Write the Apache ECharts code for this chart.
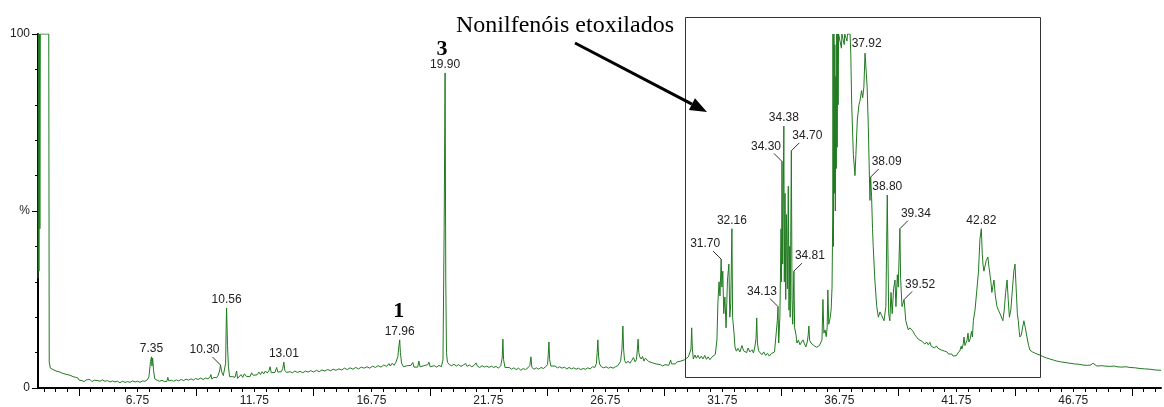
<!DOCTYPE html>
<html><head><meta charset="utf-8">
<script src="https://cdn.jsdelivr.net/npm/echarts@6/dist/echarts.min.js"></script>
<style>html,body{margin:0;padding:0;background:#fff}#c{width:1164px;height:407px}</style>
</head><body><div id="c"></div>
<script>
// ---- data (retention time [min], relative intensity [%]) ----
const signal = [
[2.50,31],[2.52,100],[2.54,33],[2.56,100],[2.58,45],[2.60,100],[2.96,100],[2.98,7.3],[3.03,5.6],[3.09,6.0],[3.14,5.2],[3.20,5.5],[3.27,4.8],[3.33,5.1],[3.44,4.5],[3.50,4.7],[3.57,4.1],[3.65,4.3],[3.74,3.8],[3.80,4.0],[3.87,3.6],[3.94,3.8],[4.00,3.2],[4.06,3.4],[4.12,3.0],[4.21,2.8],[4.26,2.2],[4.30,1.7],[4.38,2.1],[4.47,1.8],[4.56,2.3],[4.64,1.9],[4.72,2.4],[4.81,1.8],[4.90,2.2],[4.98,1.8],[5.06,2.1],[5.15,1.9],[5.25,2.3],[5.36,1.9],[5.47,2.1],[5.58,1.7],[5.68,2.0],[5.79,1.7],[5.90,1.9],[6.00,1.5],[6.11,1.9],[6.22,1.6],[6.33,1.8],[6.43,1.6],[6.54,2.0],[6.65,1.7],[6.76,1.9],[6.86,1.6],[6.97,2.0],[7.07,1.9],[7.17,2.3],[7.24,3.1],[7.31,7.5],[7.35,8.8],[7.37,6.2],[7.40,8.5],[7.44,5.0],[7.49,2.6],[7.59,2.2],[7.70,1.9],[7.80,2.2],[7.90,1.8],[8.01,1.9],[8.05,3.0],[8.09,2.0],[8.20,2.2],[8.30,1.9],[8.41,2.3],[8.51,2.0],[8.62,2.4],[8.73,2.1],[8.83,2.5],[8.94,2.2],[9.04,2.6],[9.14,2.2],[9.24,2.7],[9.34,2.4],[9.45,2.8],[9.51,3.3],[9.56,2.4],[9.66,2.8],[9.76,2.6],[9.85,3.0],[9.89,3.8],[9.93,2.5],[10.02,3.0],[10.08,3.5],[10.14,2.9],[10.20,3.6],[10.26,4.8],[10.30,6.5],[10.36,4.4],[10.42,3.5],[10.47,3.0],[10.52,7.0],[10.54,16],[10.56,22.6],[10.60,12],[10.64,6.0],[10.69,3.2],[10.76,2.9],[10.83,3.2],[10.92,3.0],[10.99,4.8],[11.03,2.7],[11.10,3.2],[11.18,3.8],[11.25,3.0],[11.32,4.0],[11.40,3.3],[11.48,3.6],[11.56,3.2],[11.63,4.3],[11.70,3.6],[11.78,4.0],[11.86,3.7],[11.94,4.5],[12.01,3.8],[12.08,4.6],[12.15,4.0],[12.22,4.8],[12.30,4.2],[12.38,5.0],[12.42,6.0],[12.47,4.3],[12.55,4.8],[12.63,4.4],[12.70,5.8],[12.75,4.5],[12.82,5.0],[12.90,4.6],[12.96,5.5],[13.01,7.3],[13.05,5.0],[13.12,4.4],[13.20,4.9],[13.27,4.6],
[13.38,4.3],[13.48,4.8],[13.59,4.4],[13.70,4.7],[13.82,4.3],[13.93,4.8],[14.04,4.5],[14.16,4.9],[14.28,4.5],[14.40,5.0],[14.52,4.6],[14.64,5.1],[14.76,4.8],[14.88,5.2],[15.00,4.9],[15.12,5.3],[15.24,5.0],[15.36,5.4],[15.48,5.1],[15.60,5.6],[15.72,5.2],[15.84,5.7],[15.96,5.3],[16.08,5.8],[16.20,5.4],[16.32,5.9],[16.44,5.6],[16.56,6.0],[16.68,5.6],[16.80,6.2],[16.92,5.8],[17.04,6.3],[17.16,5.9],[17.28,6.5],[17.40,6.1],[17.50,6.9],[17.56,6.2],[17.64,7.0],[17.72,6.4],[17.80,7.3],[17.88,8.8],[17.93,12],[17.96,13.6],[17.99,10],[18.04,7.0],[18.12,6.0],[18.20,5.7],[18.28,6.3],[18.36,5.8],[18.44,6.4],[18.52,7.2],[18.57,5.9],[18.65,6.3],[18.73,5.9],[18.78,7.6],[18.83,6.0],[18.91,5.8],[19.00,6.3],[19.08,5.9],[19.16,6.6],[19.21,7.3],[19.26,6.0],[19.34,5.8],[19.44,6.3],[19.54,5.9],[19.64,6.4],[19.74,6.0],[19.81,7.9],[19.86,45],[19.90,89],[19.93,30],[19.96,10],[20.00,7.3],[20.08,6.6],[20.18,6.3],[20.28,6.7],[20.38,6.2],[20.48,6.6],[20.58,6.1],[20.68,6.5],[20.78,6.9],[20.84,6.1],[20.94,6.5],[21.04,6.0],[21.14,6.4],[21.22,7.1],[21.28,6.2],[21.38,5.8],[21.48,6.3],[21.58,5.9],[21.68,6.2],[21.78,5.8],[21.88,6.2],[21.98,5.8],[22.08,6.1],[22.18,5.6],[22.28,6.3],[22.34,8.5],[22.37,13.8],[22.40,8.0],[22.46,5.8],[22.54,5.4],[22.64,5.8],[22.74,5.3],[22.84,5.7],[22.94,5.2],[23.04,5.6],[23.14,5.0],[23.24,5.5],[23.34,5.2],[23.44,5.7],[23.52,6.3],[23.57,8.8],[23.61,5.8],[23.70,5.3],[23.80,5.7],[23.90,5.3],[24.00,5.8],[24.10,5.5],[24.20,6.0],[24.28,6.6],[24.31,9.5],[24.34,13.0],[24.37,8.0],[24.42,6.2],[24.50,5.8],[24.60,6.2],[24.70,5.7],[24.80,6.0],[24.90,5.6],[25.00,5.9],[25.10,5.4],[25.20,5.8],[25.30,5.4],[25.40,5.7],[25.50,5.3],[25.60,5.6],[25.70,5.2],[25.80,5.5],[25.90,5.3],[26.00,5.7],[26.10,5.4],[26.20,6.0],[26.30,5.8],[26.37,7.0],[26.40,10],[26.43,13.6],[26.46,9],[26.50,6.8],[26.58,6.0],[26.68,5.7],[26.78,6.0],[26.88,5.6],[26.98,5.9],[27.08,5.6],[27.18,6.0],[27.28,6.3],[27.40,7.5],[27.46,11],[27.50,17.5],[27.53,11],[27.57,7.8],[27.64,7.0],[27.72,7.6],[27.80,7.0],[27.88,7.8],[27.95,8.6],[28.02,7.4],[28.08,8.0],[28.12,11],[28.15,13.8],[28.18,10],[28.22,8.8],[28.28,8.2],[28.34,8.9],[28.40,7.6],[28.46,8.4],[28.53,8.8],[28.60,7.5],[28.68,7.9],[28.76,7.1],[28.84,7.4],[28.92,6.8],[29.00,7.0],[29.10,6.6],[29.20,6.2],[29.30,6.6],[29.38,6.9],[29.46,6.4],[29.54,7.9],[29.58,6.8],[29.66,7.2],[29.74,6.8],[29.82,7.4],[29.90,7.0],[29.98,7.6],[30.06,7.3],[30.14,8.0],[30.22,7.6],[30.30,8.8],[30.36,8.3],[30.41,11],[30.44,17.0],[30.47,11],[30.51,8.2],[30.58,9.3],[30.64,8.4],[30.71,9.2],[30.78,8.3],[30.85,9.0],[30.92,8.2],[31.00,9.2],[31.07,8.1],[31.14,8.8],[31.22,8.0],[31.30,8.7],[31.38,8.2],[31.45,9.5],
[31.52,13.6],[31.56,24],[31.61,30],[31.65,26],[31.70,36.4],[31.73,28.5],[31.77,33],[31.81,21],[31.86,25.7],[31.91,17],[31.97,30.5],[32.03,35],[32.07,20],[32.11,24],[32.16,45],[32.19,20],[32.25,15.5],[32.29,11.6],[32.35,10.4],[32.42,11.2],[32.50,10.2],[32.59,12],[32.66,10.5],[32.72,11.0],[32.79,10.0],[32.85,11.3],[32.93,10.2],[33.02,10.8],[33.08,9.9],[33.14,11.6],[33.19,14],[33.22,19.8],[33.25,12.7],[33.30,10.5],[33.36,10.0],[33.44,9.4],[33.52,10.2],[33.60,9.2],[33.68,9.8],[33.76,9.0],[33.84,9.7],[33.91,9.3],[33.98,10.2],[34.04,10.6],[34.10,19],[34.13,23],[34.16,12.7],[34.21,20],[34.26,45],[34.28,30],[34.30,64],[34.33,35],[34.38,74],[34.40,30],[34.43,55],[34.46,25],[34.49,49],[34.53,28],[34.57,57],[34.60,22],[34.63,40],[34.65,20],[34.70,67],[34.73,25],[34.76,18],[34.81,33],[34.84,17],[34.90,15],[34.94,12.7],[35.00,13.5],[35.07,12.2],[35.14,13.0],[35.20,13.6],[35.26,12.5],[35.32,11.6],[35.38,13.0],[35.42,15],[35.45,17.5],[35.48,13.5],[35.54,12.7],[35.60,13.2],[35.66,12.0],[35.71,12.5],[35.78,11.5],[35.84,11.3],[35.90,12.0],[35.96,11.6],[36.01,13.6],[36.05,25],[36.09,15.5],[36.14,16.4],[36.19,14.5],[36.23,17],[36.26,27.7],[36.30,18],[36.35,19.5],[36.40,22],[36.44,28.5],[36.47,50],[36.48,100],[36.50,40],[36.52,100],[36.54,55],[36.56,97],[36.58,50],[36.60,88],[36.62,62],[36.64,100],[36.66,68],[36.68,100],[36.70,80],[36.72,100],[36.80,100],[36.84,96],[36.86,100],[36.93,100],[36.96,97],[36.98,100],[37.05,100],[37.08,98],[37.10,100],[37.21,100],[37.24,94.6],[37.28,80],[37.35,66],[37.42,60],[37.46,66],[37.52,75.7],[37.59,80],[37.63,81],[37.70,84],[37.75,82],[37.80,85],[37.85,94.6],[37.92,95],[37.94,85],[37.99,73.7],[38.03,61.6],[38.06,53],[38.09,59.6],[38.13,54],[38.17,45],[38.20,40],[38.27,30.5],[38.35,23],[38.42,20],[38.49,21.5],[38.56,20.5],[38.66,19],[38.74,23],[38.80,54.5],[38.86,21],[38.91,19],[38.96,27],[39.01,21],[39.07,28],[39.13,30.5],[39.17,23],[39.23,32],[39.27,28.5],[39.34,45],[39.37,31],[39.43,23],[39.52,25],[39.59,19],[39.70,16.4],[39.77,17],[39.90,16],[39.98,15],
[40.05,14.5],[40.12,13.8],[40.20,14.2],[40.28,13.2],[40.35,13.6],[40.41,12.4],[40.48,13.0],[40.55,12.2],[40.62,12.9],[40.68,11.8],[40.75,12.2],[40.82,11.3],[40.90,11.9],[40.97,11.2],[41.05,11.5],[41.12,10.7],[41.18,11.1],[41.26,10.4],[41.35,10.2],[41.42,9.6],[41.48,9.3],[41.56,9.6],[41.62,9.0],[41.69,8.8],[41.76,9.2],[41.82,9.9],[41.90,10.5],[41.96,11.8],[41.99,11.0],[42.05,12.5],[42.08,14.4],[42.12,12.0],[42.16,12.7],[42.21,13.5],[42.25,15.5],[42.29,13],[42.35,14],[42.40,16],[42.44,14.4],[42.48,19],[42.55,22],[42.63,27.7],[42.70,33],[42.76,42],[42.82,45],[42.86,38],[42.89,35],[42.93,33],[42.97,33.5],[43.03,36],[43.10,37],[43.15,34],[43.19,34.5],[43.23,30],[43.27,27],[43.32,29],[43.36,30.5],[43.42,26],[43.49,23],[43.55,22],[43.62,21],[43.68,20.5],[43.74,19],[43.80,22],[43.86,27],[43.92,30.5],[43.97,25],[44.02,20],[44.08,22],[44.15,28],[44.21,33],[44.26,35],[44.31,28],[44.36,21],[44.40,19],[44.44,16],[44.47,14.4],[44.53,15],[44.58,17],[44.64,19],[44.70,17],[44.77,14.4],[44.84,12],[44.90,10.7],[45.00,10.2],[45.10,9.9],[45.20,9.6],[45.33,9.3],[45.45,8.9],[45.60,8.5],[45.75,8.2],[45.90,7.9],[46.05,7.6],[46.20,7.4],[46.40,7.2],[46.61,7.0],[46.80,6.8],[47.00,6.7],[47.16,6.5],[47.35,6.4],[47.50,6.5],[47.59,7.0],[47.66,6.6],[47.76,6.2],[47.95,6.3],[48.10,6.2],[48.30,6.1],[48.50,6.2],[48.62,6.0],[48.80,5.9],[49.00,6.0],[49.17,5.8],[49.40,5.7],[49.60,5.5],[49.80,5.4],[50.03,5.3],[50.25,5.1],[50.50,5.0]
];
const peakTimes   = [7.35, 10.30, 10.56, 13.01, 17.96, 19.90, 31.70, 32.16, 34.13, 34.30, 34.38, 34.70, 34.81, 37.92, 38.09, 38.80, 39.34, 39.52, 42.82];
const peakHeights = [8.8, 6.5, 22.6, 7.3, 13.6, 89, 36.4, 45, 23, 64, 74, 67, 33, 95, 59.6, 54.5, 45, 25, 45];
const compoundNames   = ['1', '3'];
const compoundTimes   = [17.96, 19.90];
const compoundHeights = [13.6, 89];
const xLabelValues = [6.75, 11.75, 16.75, 21.75, 26.75, 31.75, 36.75, 41.75, 46.75];
const yLabelText = {0: '0', 50: '%', 100: '100'};
const titleText = 'Nonilfenóis etoxilados';
const boxTimes = [30.15, 45.33];
const boxLevels = [3.1, 104.8];

// ---- layout / style ----
const peakLabelSide = ['top','left','top','top','top','top','left','top','left','left','top','right','right','top','right','top','right','right','top'];
const compoundOffset = [[-1,-29],[-3,-24]];
const X_MIN = 2.5, X_MAX = 50.5;
const minorTicks = []; for (let v = 2.75; v < X_MAX; v += 0.5) minorTicks.push(+v.toFixed(2));
const majorTicks = []; for (let v = 4.25; v < X_MAX; v += 5) majorTicks.push(+v.toFixed(2));
const SANS = '"Liberation Sans", Arial, sans-serif';
const SERIF = '"Liberation Serif", "Times New Roman", serif';
const LINE_COLOR = '#217a21';

const chart = echarts.init(document.getElementById('c'), null, {renderer: 'canvas'});
const baseX = {type:'value', min:X_MIN, max:X_MAX, position:'bottom', splitLine:{show:false}};
const baseY = {type:'value', min:0, max:100, position:'left', splitLine:{show:false}};
const option = {
  animation: false,
  backgroundColor: '#fff',
  grid: {left:38, right:3, top:34, bottom:19, containLabel:false, outerBoundsMode:'none'},
  xAxis: [
    Object.assign({}, baseX, {
      axisLine:{show:true, onZero:false, lineStyle:{color:'#000', width:2}},
      axisTick:{show:true, customValues: minorTicks, length:4, lineStyle:{color:'#000', width:1}},
      axisLabel:{show:false}
    }),
    Object.assign({}, baseX, {
      axisLine:{show:false, onZero:false},
      axisTick:{show:true, customValues: majorTicks, length:8, lineStyle:{color:'#000', width:1}},
      axisLabel:{show:true, customValues: xLabelValues, formatter: v => Number(v).toFixed(2), margin:7, color:'#222', fontSize:12, fontFamily:SANS}
    })
  ],
  yAxis: [
    Object.assign({}, baseY, {
      interval: 50,
      axisLine:{show:true, onZero:false, lineStyle:{color:'#000', width:2}},
      axisTick:{show:true, length:6, lineStyle:{color:'#000', width:1}},
      axisLabel:{show:true, margin:8, color:'#222', fontSize:12, fontFamily:SANS, formatter: v => yLabelText[v] || ''}
    }),
    Object.assign({}, baseY, {
      interval: 10,
      axisLine:{show:false, onZero:false},
      axisTick:{show:true, length:3, lineStyle:{color:'#000', width:1}},
      axisLabel:{show:false}
    })
  ],
  series: [
    {
      type:'line', xAxisIndex:0, yAxisIndex:0, data: signal,
      showSymbol:false, symbol:'none', sampling:null, z:3,
      lineStyle:{color:LINE_COLOR, width:1}
    },
    {
      type:'custom', xAxisIndex:0, yAxisIndex:0, clip:false, z:4,
      data: peakTimes.map((t, i) => [t, peakHeights[i]]),
      renderItem: function (params, api) {
        const i = params.dataIndex;
        const p = api.coord([api.value(0), api.value(1)]);
        const txt = peakTimes[i].toFixed(2);
        const side = peakLabelSide[i];
        const font = '12px ' + SANS;
        if (side === 'top') {
          return {type:'text', style:{x:p[0], y:p[1]-8, text:txt, font:font, fill:'#222', align:'center', verticalAlign:'middle'}};
        }
        const s = side === 'left' ? -1 : 1;
        return {type:'group', children:[
          {type:'line', shape:{x1:p[0], y1:p[1], x2:p[0]+s*8, y2:p[1]-8}, style:{stroke:'#333', lineWidth:1}},
          {type:'text', style:{x:p[0]+s*16, y:p[1]-15, text:txt, font:font, fill:'#222', align:'center', verticalAlign:'middle'}}
        ]};
      }
    },
    {
      type:'custom', xAxisIndex:0, yAxisIndex:0, clip:false, z:4,
      data: compoundTimes.map((t, i) => [t, compoundHeights[i]]),
      renderItem: function (params, api) {
        const i = params.dataIndex;
        const p = api.coord([api.value(0), api.value(1)]);
        const o = compoundOffset[i];
        return {type:'text', style:{x:p[0]+o[0], y:p[1]+o[1], text:compoundNames[i], font:'bold 22px ' + SERIF, fill:'#000', align:'center', verticalAlign:'middle'}};
      }
    }
  ]
};
chart.setOption(option);

// annotation box, arrow and title
const p0 = chart.convertToPixel({xAxisIndex:0, yAxisIndex:0}, [boxTimes[0], boxLevels[1]]);
const p1 = chart.convertToPixel({xAxisIndex:0, yAxisIndex:0}, [boxTimes[1], boxLevels[0]]);
const tail = [575, 43], tip = [707, 112];
const dx = tip[0]-tail[0], dy = tip[1]-tail[1], len = Math.hypot(dx, dy);
const ux = dx/len, uy = dy/len, hl = 17, hw = 6.5;
const bc = [tip[0]-ux*hl, tip[1]-uy*hl];
chart.setOption({
  graphic: [
    {type:'rect', z:10, shape:{x:Math.round(p0[0])+0.5, y:Math.round(p0[1])+0.5, width:Math.round(p1[0]-p0[0]), height:Math.round(p1[1]-p0[1])}, style:{fill:'none', stroke:'#333', lineWidth:1}},
    {type:'line', z:10, shape:{x1:tail[0], y1:tail[1], x2:bc[0], y2:bc[1]}, style:{stroke:'#000', lineWidth:3}},
    {type:'polygon', z:10, shape:{points:[tip, [bc[0]-uy*hw, bc[1]+ux*hw], [bc[0]+uy*hw, bc[1]-ux*hw]]}, style:{fill:'#000'}},
    {type:'text', z:10, style:{x:565, y:26, text:titleText, font:'24px ' + SERIF, fill:'#000', align:'center', verticalAlign:'middle'}}
  ]
});
</script>
</body></html>
